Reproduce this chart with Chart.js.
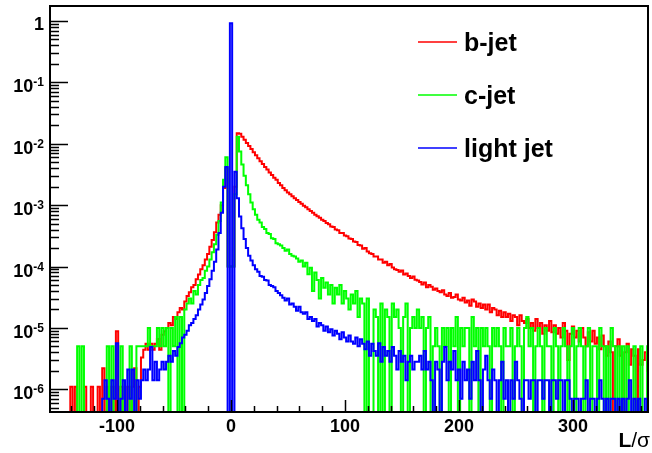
<!DOCTYPE html>
<html lang="en">
<head>
    <meta charset="UTF-8">
    <title>L/sigma - b, c and light jets</title>
    <style>
        body { margin: 0; background: #fff; }
        canvas { display: block; }
    </style>
</head>
<body>
    <canvas id="sigChart" width="652" height="453"></canvas>

    <script src="https://cdn.jsdelivr.net/npm/chart.js@4/dist/chart.umd.min.js"></script>
    <script>
        // histogram binning: first bin starts at -157, every bin is 2 wide
        const binLow = -157;
        const binWidth = 2;

        // axis ranges and tick values
        const xRange = [-158.8, 365.8];
        const yRange = [4.26e-7, 1.756];
        const xMajorTicks = [-100, 0, 100, 200, 300];
        const yDecades = [1, 1e-1, 1e-2, 1e-3, 1e-4, 1e-5, 1e-6];
        const yDecadeLabels = [['1', ''], ['10', '-1'], ['10', '-2'], ['10', '-3'], ['10', '-4'], ['10', '-5'], ['10', '-6']];

        const seriesNames = ['b-jet', 'c-jet', 'light jet'];
        const seriesColors = ['#ff0000', '#00ff00', '#0000ff'];

        // bin contents, 10 bins per row (row 0 starts at bin centre -156)
        const bJet = [
            0, 0, 0, 0, 0, 0, 0, 0, 1.1e-6, 0,
            1.1e-6, 0, 0, 0, 1.1e-6, 0, 0, 1.1e-6, 0, 0,
            1.1e-6, 0, 2.2e-6, 0, 1.1e-6, 0, 1.1e-6, 0, 8.8e-6, 0,
            1.1e-6, 0, 0, 1.1e-6, 0, 1.1e-6, 2.2e-6, 0, 1.1e-6, 3.3e-6,
            4.4e-6, 5.5e-6, 4.4e-6, 5.5e-6, 4.4e-6, 5.5e-6, 6.6e-6, 4.4e-6, 7.7e-6, 8.8e-6,
            1.0e-5, 1.2e-5, 1.1e-5, 1.5e-5, 1.4e-5, 1.8e-5, 2.1e-5, 2.0e-5, 2.7e-5, 3.3e-5,
            3.8e-5, 4.6e-5, 5.0e-5, 6.2e-5, 7.4e-5, 9.0e-5, 1.05e-4, 1.3e-4, 1.6e-4, 2.1e-4,
            2.7e-4, 3.6e-4, 5.2e-4, 7.0e-4, 1.0e-3, 1.9e-3, 4.0e-3, 1e-4, 1e-4, 1e-4,
            2.0e-3, 0.0149, 0.0145, 0.013, 0.0116, 0.0103, 0.0092, 0.0082, 0.0073, 0.0065,
            0.0058, 0.0052, 0.0047, 0.0042, 0.0038, 0.0034, 0.0031, 0.0028, 0.0026, 0.0023,
            0.0021, 0.0019, 0.00175, 0.0016, 0.0015, 0.0014, 0.0013, 0.00121, 0.00112, 0.00105,
            9.8e-4, 9.2e-4, 8.6e-4, 8.0e-4, 7.5e-4, 7.0e-4, 6.6e-4, 6.2e-4, 5.8e-4, 5.5e-4,
            5.1e-4, 4.9e-4, 4.5e-4, 4.4e-4, 4.0e-4, 3.9e-4, 3.5e-4, 3.5e-4, 3.2e-4, 3.1e-4,
            2.85e-4, 2.8e-4, 2.55e-4, 2.5e-4, 2.25e-4, 2.2e-4, 1.95e-4, 2.0e-4, 1.75e-4, 1.65e-4,
            1.6e-4, 1.45e-4, 1.45e-4, 1.3e-4, 1.3e-4, 1.15e-4, 1.2e-4, 1.05e-4, 1.1e-4, 9.6e-5,
            9.0e-5, 8.8e-5, 8.2e-5, 8.6e-5, 7.4e-5, 7.7e-5, 7.0e-5, 6.5e-5, 6.9e-5, 6.1e-5,
            5.9e-5, 5.6e-5, 5.1e-5, 5.5e-5, 4.6e-5, 5.0e-5, 4.7e-5, 4.2e-5, 4.4e-5, 4.0e-5,
            3.8e-5, 4.1e-5, 3.5e-5, 3.3e-5, 3.7e-5, 3.1e-5, 3.2e-5, 3.5e-5, 2.9e-5, 2.8e-5,
            3.1e-5, 2.6e-5, 2.8e-5, 2.3e-5, 2.9e-5, 2.7e-5, 2.2e-5, 2.5e-5, 2.1e-5, 2.4e-5,
            2.0e-5, 2.4e-5, 1.8e-5, 2.1e-5, 2.0e-5, 1.6e-5, 1.9e-5, 1.5e-5, 1.8e-5, 1.5e-5,
            1.7e-5, 1.3e-5, 1.6e-5, 1.5e-5, 1.1e-5, 1.6e-5, 1.3e-5, 1.2e-5, 1.4e-5, 1.0e-5,
            1.2e-5, 9e-6, 1.4e-5, 1.0e-5, 1.2e-5, 8e-6, 1.1e-5, 9e-6, 1.3e-5, 8.5e-6,
            1.1e-5, 8e-6, 1.0e-5, 7e-6, 1.2e-5, 9e-6, 3e-6, 8e-6, 1.05e-5, 7e-6,
            9e-6, 6e-6, 1.0e-5, 7e-6, 5e-6, 8.5e-6, 6e-6, 9e-6, 5.5e-6, 7e-6,
            4.5e-6, 7.5e-6, 5e-6, 3.5e-6, 6e-6, 4e-6, 0, 5e-6, 6.5e-6, 3.5e-6,
            0, 4e-6, 5.5e-6, 2.5e-6, 4.5e-6, 3.5e-6, 0, 4.5e-6, 2.5e-6, 3e-6,
            4e-6, 2e-6
        ];

        const cJet = [
            0, 0, 0, 0, 0, 0, 0, 0, 0, 0,
            0, 5e-6, 0, 5e-6, 0, 0, 0, 0, 0, 0,
            0, 0, 0, 0, 5e-6, 0, 5e-6, 0, 0, 0,
            5e-6, 0, 0, 0, 5e-6, 0, 0, 5e-6, 5e-6, 5e-6,
            5e-6, 5e-6, 1e-5, 5e-6, 5e-6, 5e-6, 1e-5, 5e-6, 1e-5, 5e-6,
            1e-5, 0, 1e-5, 5e-6, 1.5e-5, 0, 1.5e-5, 0, 2e-5, 2.5e-5,
            3e-5, 2.5e-5, 4e-5, 3.5e-5, 5e-5, 6e-5, 6.5e-5, 8.5e-5, 1.0e-4, 1.3e-4,
            1.7e-4, 2.3e-4, 3.3e-4, 5.5e-4, 1.1e-3, 2.6e-3, 6.0e-3, 1e-4, 1e-4, 1e-4,
            1.5e-3, 0.013, 7.5e-3, 4.6e-3, 3.0e-3, 2.1e-3, 1.5e-3, 1.1e-3, 8.6e-4, 7.0e-4,
            5.8e-4, 5.2e-4, 4.4e-4, 4.1e-4, 3.5e-4, 3.4e-4, 2.9e-4, 2.8e-4, 2.4e-4, 2.3e-4,
            2.2e-4, 2.0e-4, 1.8e-4, 1.9e-4, 1.6e-4, 1.5e-4, 1.45e-4, 1.35e-4, 1.2e-4, 1.25e-4,
            1.0e-4, 1.15e-4, 7.5e-5, 9.5e-5, 4e-5, 8e-5, 6e-5, 3e-5, 6.5e-5, 4.5e-5,
            5.5e-5, 3.5e-5, 5e-5, 2.5e-5, 4.5e-5, 3.5e-5, 5e-5, 2.5e-5, 4e-5, 3e-5,
            2e-5, 3.5e-5, 2.5e-5, 4e-5, 1.5e-5, 3e-5, 2.5e-5, 0, 3e-5, 0,
            0, 2e-5, 1.5e-5, 0, 2.5e-5, 0, 2e-5, 1.5e-5, 0, 2.5e-5,
            1.5e-5, 2e-5, 1e-5, 0, 1.5e-5, 2.5e-5, 0, 1e-5, 1.5e-5, 1e-5,
            2e-5, 1e-5, 1.5e-5, 0, 1e-5, 1.5e-5, 0, 5e-6, 1e-5, 5e-6,
            0, 1e-5, 5e-6, 1e-5, 0, 1e-5, 5e-6, 1.5e-5, 0, 1e-5,
            5e-6, 1e-5, 1e-5, 0, 1.5e-5, 5e-6, 1e-5, 0, 1e-5, 5e-6,
            1e-5, 5e-6, 0, 1e-5, 5e-6, 1e-5, 5e-6, 0, 1e-5, 5e-6,
            5e-6, 1e-5, 0, 5e-6, 1e-5, 5e-6, 0, 1e-5, 1.5e-5, 5e-6,
            1e-5, 0, 5e-6, 1e-5, 5e-6, 0, 1e-5, 5e-6, 5e-6, 0,
            1e-5, 5e-6, 0, 5e-6, 1e-5, 5e-6, 0, 5e-6, 1e-5, 0,
            5e-6, 1e-5, 5e-6, 0, 5e-6, 1e-5, 0, 5e-6, 5e-6, 0,
            1e-5, 5e-6, 0, 5e-6, 0, 1e-5, 5e-6, 0, 5e-6, 0,
            5e-6, 0, 5e-6, 0, 0, 5e-6, 0, 0, 5e-6, 0,
            0, 5e-6
        ];

        const lightJet = [
            0, 0, 0, 0, 0, 0, 0, 0, 0, 0,
            0, 0, 0, 0, 0, 0, 0, 0, 0, 0,
            0, 0, 7e-7, 1.4e-6, 7e-7, 0, 1.4e-6, 7e-7, 5.6e-6, 0,
            7e-7, 1.4e-6, 0, 2.1e-6, 7e-7, 2.1e-6, 0, 1.4e-6, 7e-7, 1.4e-6,
            2.1e-6, 1.4e-6, 2.1e-6, 4.9e-6, 1.4e-6, 2.8e-6, 1.4e-6, 2.1e-6, 2.8e-6, 2.1e-6,
            2.8e-6, 3.5e-6, 2.8e-6, 4.2e-6, 3.5e-6, 4.9e-6, 5.6e-6, 7e-6, 7.7e-6, 9e-6,
            1.1e-5, 1.2e-5, 1.4e-5, 1.6e-5, 2.0e-5, 2.4e-5, 2.9e-5, 3.7e-5, 4.8e-5, 6.2e-5,
            8.5e-5, 1.2e-4, 1.9e-4, 3.5e-4, 7.5e-4, 2.0e-3, 4.2e-3, 0, 0.92, 0,
            3.5e-3, 1.3e-3, 6.5e-4, 4.2e-4, 2.8e-4, 2.0e-4, 1.5e-4, 1.25e-4, 1.05e-4, 9.0e-5,
            8.2e-5, 7.0e-5, 6.8e-5, 6.0e-5, 5.9e-5, 5.0e-5, 4.8e-5, 4.6e-5, 4.0e-5, 3.7e-5,
            3.4e-5, 3.1e-5, 2.8e-5, 3.0e-5, 2.4e-5, 2.5e-5, 2.2e-5, 1.9e-5, 2.2e-5, 1.8e-5,
            1.7e-5, 1.8e-5, 1.4e-5, 1.5e-5, 1.3e-5, 1.4e-5, 1.05e-5, 1.2e-5, 1.1e-5, 9e-6,
            1.05e-5, 8.5e-6, 9.5e-6, 7.5e-6, 9e-6, 8e-6, 6.5e-6, 8.5e-6, 7e-6, 6e-6,
            7.5e-6, 6e-6, 5.5e-6, 7e-6, 5e-6, 6.5e-6, 5.5e-6, 4.5e-6, 6e-6, 3.5e-6,
            5.5e-6, 4.2e-6, 3.5e-6, 5.6e-6, 2.8e-6, 4.9e-6, 3.5e-6, 4.2e-6, 2.8e-6, 4.9e-6,
            3.5e-6, 2.1e-6, 4.2e-6, 2.8e-6, 3.5e-6, 1.4e-6, 2.8e-6, 3.5e-6, 2.1e-6, 2.8e-6,
            2.8e-6, 3.5e-6, 2.1e-6, 4.2e-6, 2.1e-6, 2.8e-6, 1.4e-6, 0, 2.8e-6, 2.1e-6,
            0, 2.8e-6, 4.9e-6, 1.4e-6, 2.8e-6, 2.1e-6, 4.2e-6, 1.4e-6, 2.1e-6, 7e-7,
            2.8e-6, 1.4e-6, 2.1e-6, 7e-7, 2.8e-6, 1.4e-6, 4.2e-6, 1.4e-6, 0, 2.1e-6,
            3.5e-6, 1.4e-6, 7e-7, 2.1e-6, 1.4e-6, 0, 1.4e-6, 2.8e-6, 7e-7, 1.4e-6,
            0, 1.4e-6, 7e-7, 2.8e-6, 1.4e-6, 7e-7, 0, 1.4e-6, 1.4e-6, 7e-7,
            1.4e-6, 1.4e-6, 0, 1.4e-6, 1.4e-6, 7e-7, 1.4e-6, 1.4e-6, 0, 1.4e-6,
            1.4e-6, 7e-7, 1.4e-6, 1.4e-6, 0, 1.4e-6, 1.4e-6, 7e-7, 0, 7e-7,
            7e-7, 0, 7e-7, 7e-7, 1.4e-6, 0, 7e-7, 7e-7, 0, 7e-7,
            1.4e-6, 7e-7, 0, 7e-7, 0, 7e-7, 7e-7, 0, 7e-7, 0,
            7e-7, 0, 7e-7, 1.4e-6, 0, 7e-7, 0, 7e-7, 0, 0,
            7e-7, 0
        ];

        // empty bins can't sit on a log axis, park them just under the frame
        const belowAxis = 1e-7;

        function histPoints(values) {
            const pts = values.map((v, i) => ({ x: binLow + i * binWidth, y: v > 0 ? v : belowAxis }));
            pts.push({ x: binLow + values.length * binWidth, y: pts[pts.length - 1].y });
            return pts;
        }

        const boldFont = (size) => `bold ${size}px "Liberation Sans", Arial, Helvetica, sans-serif`;
        const plainFont = (size) => `${size}px "Liberation Sans", Arial, Helvetica, sans-serif`;

        // ROOT style frame, inward ticks, labels and legend
        const rootFrame = {
            id: 'rootFrame',
            afterDraw(chart) {
                const { ctx, chartArea: a, scales: { x, y } } = chart;
                ctx.save();
                ctx.strokeStyle = '#000';
                ctx.fillStyle = '#000';

                // y ticks: decades + minor 2..9
                ctx.lineWidth = 1.5;
                ctx.beginPath();
                yDecades.concat([1e-7]).forEach(d => {
                    for (let k = 1; k <= 9; k++) {
                        const v = k * d;
                        if (v < yRange[0] || v > yRange[1]) continue;
                        const py = Math.round(y.getPixelForValue(v)) + 0.5;
                        ctx.moveTo(a.left, py);
                        ctx.lineTo(a.left + (k === 1 ? 18 : 9), py);
                    }
                });
                // x ticks every 20, major every 100
                for (let v = -140; v <= 360; v += 20) {
                    const px = Math.round(x.getPixelForValue(v)) + 0.5;
                    ctx.moveTo(px, a.bottom);
                    ctx.lineTo(px, a.bottom - (v % 100 === 0 ? 12 : 6));
                }
                ctx.stroke();

                // frame
                ctx.lineWidth = 2;
                ctx.strokeRect(a.left, a.top, a.right - a.left, a.bottom - a.top);

                // y labels, right aligned with a superscript exponent
                ctx.textBaseline = 'alphabetic';
                yDecades.forEach((d, i) => {
                    const py = y.getPixelForValue(d);
                    const [base, exp] = yDecadeLabels[i];
                    const right = 44;
                    ctx.font = boldFont(12);
                    const we = exp ? ctx.measureText(exp).width : 0;
                    ctx.textAlign = 'left';
                    if (exp) ctx.fillText(exp, right - we, py + 4);
                    ctx.font = boldFont(18);
                    ctx.textAlign = 'right';
                    ctx.fillText(base, right - we, py + (exp ? 10 : 9));
                });

                // x labels
                ctx.font = boldFont(18);
                ctx.textAlign = 'center';
                xMajorTicks.forEach(v => {
                    ctx.fillText(String(v), x.getPixelForValue(v), 432);
                });

                // x axis title "L/σ"
                ctx.textAlign = 'left';
                ctx.font = plainFont(21);
                const wRest = ctx.measureText('/σ').width;
                ctx.font = boldFont(21);
                const wL = ctx.measureText('L').width;
                const startX = 650 - wRest - wL;
                ctx.fillText('L', startX, 447);
                ctx.font = plainFont(21);
                ctx.fillText('/σ', startX + wL, 447);

                // legend
                const legendY = [42, 95, 148];
                chart.data.datasets.forEach((ds, i) => {
                    ctx.strokeStyle = ds.borderColor;
                    ctx.lineWidth = 1.5;
                    ctx.beginPath();
                    ctx.moveTo(418, legendY[i]);
                    ctx.lineTo(457, legendY[i]);
                    ctx.stroke();
                    ctx.fillStyle = '#000';
                    ctx.font = boldFont(25);
                    ctx.textAlign = 'left';
                    ctx.fillText(ds.label, 464, legendY[i] + 9);
                });
                ctx.restore();
            }
        };

        const allSeries = [bJet, cJet, lightJet];

        new Chart(document.getElementById('sigChart').getContext('2d'), {
            type: 'line',
            data: {
                datasets: allSeries.map((vals, i) => ({
                    label: seriesNames[i],
                    data: histPoints(vals),
                    borderColor: seriesColors[i],
                    borderWidth: 2,
                    pointRadius: 0,
                    stepped: 'before',
                    fill: false,
                    order: 3 - i
                }))
            },
            options: {
                responsive: false,
                animation: false,
                layout: { padding: { left: 50, top: 6, right: 4, bottom: 41 } },
                scales: {
                    x: { type: 'linear', min: xRange[0], max: xRange[1], display: false },
                    y: { type: 'logarithmic', min: yRange[0], max: yRange[1], display: false }
                },
                plugins: { legend: { display: false }, tooltip: { enabled: false } }
            },
            plugins: [rootFrame]
        });
    </script>
</body>
</html>
